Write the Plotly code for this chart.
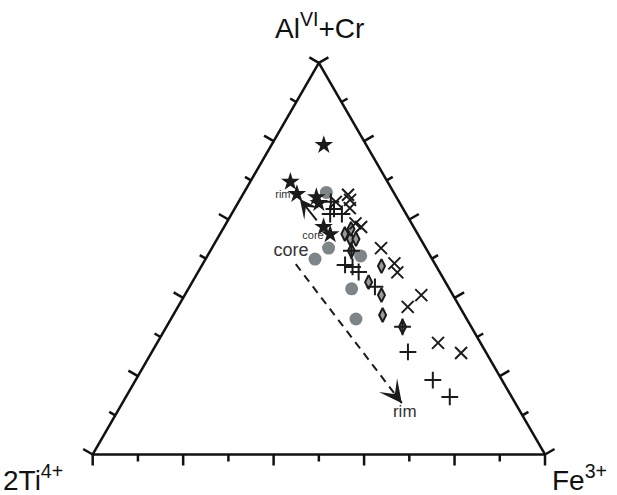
import plotly.graph_objects as go

# Ternary components in per cent: a = AlVI+Cr (top), b = 2Ti4+ (left), c = Fe3+ (right)
star_a = [79.0, 69.6, 66.5, 65.7, 64.2, 58.1, 56.2]
star_b = [9.4, 21.5, 21.6, 17.7, 17.9, 19.9, 19.4]
star_c = [11.6, 8.9, 11.9, 16.6, 17.9, 22.0, 24.4]

circle_a = [66.9, 52.7, 49.9, 50.7, 42.3, 34.6]
circle_b = [14.9, 21.5, 25.9, 15.4, 21.6, 24.5]
circle_c = [18.2, 25.8, 24.2, 33.9, 36.1, 40.9]

plus_a = [64.5, 62.7, 61.4, 61.4, 52.0, 48.4, 47.9, 46.6, 42.8, 32.6, 26.2, 19.0, 14.7]
plus_b = [15.1, 15.3, 16.8, 14.2, 16.8, 20.0, 18.6, 17.9, 16.2, 15.2, 17.2, 15.3, 13.7]
plus_c = [20.4, 22.0, 21.8, 24.4, 31.2, 31.6, 33.5, 35.5, 41.0, 52.2, 56.6, 65.7, 71.6]

cross_a = [64.5, 66.3, 65.0, 62.9, 59.0, 58.1, 52.7, 48.8, 46.5, 40.7, 37.7, 28.5, 25.9]
cross_b = [14.0, 10.4, 10.6, 11.7, 12.4, 11.6, 9.9, 8.9, 9.4, 7.0, 11.5, 9.4, 5.6]
cross_c = [21.5, 23.3, 24.4, 25.4, 28.6, 30.3, 37.4, 42.3, 44.1, 52.3, 50.8, 62.1, 68.5]

diamond_a = [56.3, 55.1, 55.0, 57.6, 52.0, 48.1, 44.0, 40.7, 35.6, 32.6]
diamond_b = [16.1, 15.5, 14.3, 14.1, 16.8, 12.1, 17.0, 15.8, 18.1, 15.2]
diamond_c = [27.6, 29.4, 30.7, 28.3, 31.2, 39.8, 39.0, 43.5, 46.3, 52.2]

# zoning trends (tail -> head), as (a, b, c)
trend_small = [(59.4, 20.5, 20.1), (65.2, 21.6, 13.2)]
trend_large = [(48.6, 30.8, 20.6), (13.1, 25.1, 61.8)]

# labels: text, (a, b, c), font size
labels = [
    ("core", (51.7, 30.3, 18.0), 18),
    ("rim", (10.6, 25.7, 63.7), 17),
    ("rim", (66.1, 24.9, 9.0), 11),
    ("core", (55.8, 23.4, 20.8), 11),
]

# axis ticks (per cent); long ticks every 20, short ones between
tick_values = [0, 10, 20, 30, 40, 50, 60, 70, 80, 90, 100]

FONT = "Liberation Sans, Arial, sans-serif"
INK = "#1b1b1b"
W, H = 617, 495
DOM_X = [0.15024, 0.88331]
DOM_Y = [0.08182, 0.87310]


def to_paper(a, c):
    u = (c + a / 2) / 100
    v = a / 100
    return (DOM_X[0] + (DOM_X[1] - DOM_X[0]) * u,
            DOM_Y[0] + (DOM_Y[1] - DOM_Y[0]) * v)


def to_pixel(a, c):
    x, y = to_paper(a, c)
    return x * W, (1 - y) * H


fig = go.Figure()

fig.add_trace(go.Scatterternary(
    a=[trend_large[0][0], trend_large[1][0]],
    b=[trend_large[0][1], trend_large[1][1]],
    c=[trend_large[0][2], trend_large[1][2]],
    mode="lines", line=dict(color=INK, width=2, dash="8px,6px"),
    hoverinfo="skip", showlegend=False))

fig.add_trace(go.Scatterternary(
    a=circle_a, b=circle_b, c=circle_c, mode="markers",
    marker=dict(symbol="circle", size=13, color="#7d8589", line=dict(width=0)),
    showlegend=False))
fig.add_trace(go.Scatterternary(
    a=diamond_a, b=diamond_b, c=diamond_c, mode="markers",
    marker=dict(symbol="diamond-tall", size=10, color="#9a9a9a", line=dict(width=2, color=INK)),
    showlegend=False))
fig.add_trace(go.Scatterternary(
    a=plus_a, b=plus_b, c=plus_c, mode="markers",
    marker=dict(symbol="cross-thin-open", size=12, color=INK, line=dict(width=2, color=INK)),
    showlegend=False))
fig.add_trace(go.Scatterternary(
    a=cross_a, b=cross_b, c=cross_c, mode="markers",
    marker=dict(symbol="x-thin-open", size=12, color=INK, line=dict(width=2, color=INK)),
    showlegend=False))
fig.add_trace(go.Scatterternary(
    a=star_a, b=star_b, c=star_c, mode="markers",
    marker=dict(symbol="star", size=14, color=INK, line=dict(width=0)),
    showlegend=False))

fig.add_trace(go.Scatterternary(
    a=[l[1][0] for l in labels], b=[l[1][1] for l in labels], c=[l[1][2] for l in labels],
    text=[l[0] for l in labels], mode="text",
    textfont=dict(family=FONT, size=[l[2] for l in labels], color="#333333"),
    hoverinfo="skip", showlegend=False))

annotations = []
# solid arrow
tail_px = to_pixel(trend_small[0][0], trend_small[0][2])
head_px = to_pixel(trend_small[1][0], trend_small[1][2])
hx, hy = to_paper(trend_small[1][0], trend_small[1][2])
annotations.append(dict(x=hx, y=hy, xref="paper", yref="paper", text="",
                        showarrow=True, arrowhead=3, arrowsize=1.6, arrowwidth=2,
                        arrowcolor=INK, axref="pixel", ayref="pixel",
                        ax=tail_px[0] - head_px[0], ay=tail_px[1] - head_px[1]))
# head of the dashed arrow
t2 = to_pixel(trend_large[0][0], trend_large[0][2])
h2 = to_pixel(trend_large[1][0], trend_large[1][2])
dx, dy = h2[0] - t2[0], h2[1] - t2[1]
n = (dx * dx + dy * dy) ** 0.5
hx, hy = to_paper(trend_large[1][0], trend_large[1][2])
annotations.append(dict(x=hx, y=hy, xref="paper", yref="paper", text="",
                        showarrow=True, arrowhead=3, arrowsize=1.9, arrowwidth=2,
                        arrowcolor=INK, axref="pixel", ayref="pixel",
                        ax=-dx / n * 14, ay=-dy / n * 14))

# apex titles
for txt, x, y in [("Al<sup>VI</sup>+Cr", 319, 26), ("2Ti<sup>4+</sup>", 33, 478),
                  ("Fe<sup>3+</sup>", 579, 478)]:
    annotations.append(dict(x=x / W, y=1 - y / H, xref="paper", yref="paper", text=txt,
                            showarrow=False, xanchor="center", yanchor="middle",
                            font=dict(family=FONT, size=28, color="#111111")))

# ticks perpendicular to each edge, pointing outwards
shapes = []
for v in tick_values:
    length = 11 if v % 20 == 0 else 7
    for (a, c), (nx, ny) in [((v, 0), (-0.866, -0.5)),        # left edge (AlVI+Cr)
                             ((0, v), (0.0, 1.0)),            # bottom edge (Fe3+)
                             ((v, 100 - v), (0.866, -0.5))]:  # right edge
        x0, y0 = to_pixel(a, c)
        x1, y1 = x0 + nx * length, y0 + ny * length
        shapes.append(dict(type="line", xref="paper", yref="paper",
                           x0=x0 / W, y0=1 - y0 / H, x1=x1 / W, y1=1 - y1 / H,
                           line=dict(color="#111111", width=2.5)))


def axis():
    return dict(title=dict(text=""), showgrid=False, showline=True, linecolor="#111111",
                linewidth=2.5, ticks="", showticklabels=False, min=0)


fig.update_layout(
    width=W, height=H,
    margin=dict(l=0, r=0, t=0, b=0, pad=0),
    paper_bgcolor="white", plot_bgcolor="white",
    ternary=dict(domain=dict(x=DOM_X, y=DOM_Y), sum=100, bgcolor="white",
                 aaxis=axis(), baxis=axis(), caxis=axis()),
    annotations=annotations,
    shapes=shapes,
    font=dict(family=FONT),
)

fig.write_html("out.html")
